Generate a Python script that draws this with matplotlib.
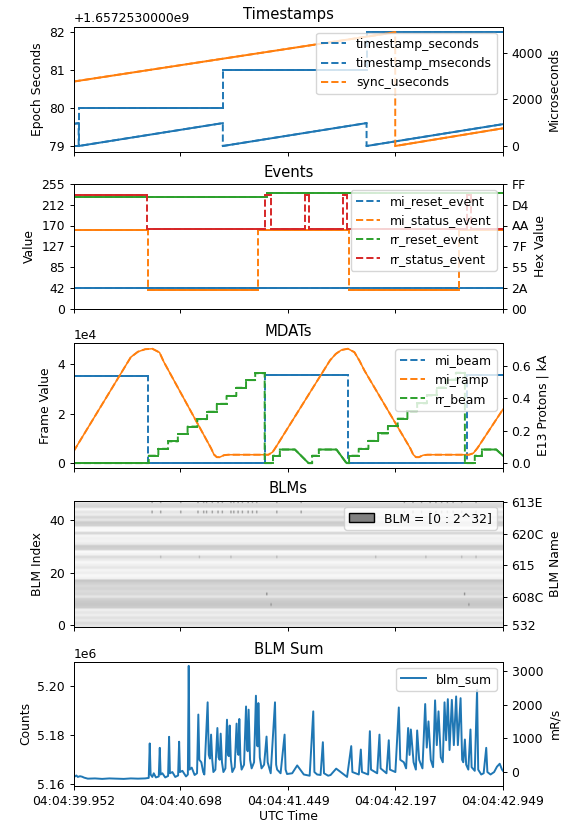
import numpy as np
import matplotlib
matplotlib.use('Agg')
import matplotlib.pyplot as plt
from matplotlib.patches import Patch
from matplotlib.ticker import ScalarFormatter

# ---- shared x axis (seconds since first sample) ----
tick_times = [0.0, 0.746, 1.497, 2.245, 2.997]
tick_labels = ['04:04:39.952', '04:04:40.698', '04:04:41.449', '04:04:42.197', '04:04:42.949']
t_end = 2.997

# ---- Timestamps ----
EPOCH_OFFSET = 1657253000
ts_seconds_t = [0.0, 0.036, 0.036, 1.042, 1.042, 2.045, 2.045, 2.997]
ts_seconds = [1657253079, 1657253079, 1657253080, 1657253080,
              1657253081, 1657253081, 1657253082, 1657253082]
ts_mseconds_t = [0.0, 0.036, 0.036, 1.042, 1.042, 2.045, 2.045, 2.997]
ts_mseconds = [950, 985, 0, 985, 0, 985, 0, 940]
sync_useconds_t = [0.0, 2.245, 2.245, 2.997]
sync_useconds = [2771, 4890, 0, 761]

# ---- Events (change times, then levels between them) ----
mi_reset_times = [0.0, 2.997]
mi_reset_levels = [42]
mi_status_times = [0.0, 0.518, 1.290, 1.923, 2.693, 2.997]
mi_status_levels = [161, 38, 161, 38, 161]
rr_reset_times = [0.0, 1.350, 2.997]
rr_reset_levels = [228, 236]
rr_status_times = [0.0, 0.510, 1.334, 1.380, 1.617, 1.642, 1.884, 1.907, 2.744, 2.774, 2.997]
rr_status_levels = [232, 162, 232, 162, 232, 162, 232, 162, 232, 162]
event_ticks = [0, 42, 85, 127, 170, 212, 255]
event_hex = ['00', '2A', '55', '7F', 'AA', 'D4', 'FF']

# ---- MDATs (frame values) ----
mi_beam_times = [0.0, 0.518, 1.334, 1.915, 2.744, 2.997]
mi_beam_levels = [35400, 0, 35800, 0, 35600]
mi_ramp_t = [0.000, 0.400, 0.450, 0.500, 0.550, 0.600, 0.630, 0.960, 0.980, 1.000,
             1.020, 1.050, 1.080, 1.360, 1.390, 1.420, 1.790, 1.830, 1.870, 1.915, 1.960,
             1.995, 2.030, 2.350, 2.370, 2.390, 2.410, 2.440, 2.470, 2.760, 2.790, 2.820, 2.997]
mi_ramp = [4700, 42900, 45100, 46100, 46300, 44800, 41000, 6000, 3500, 2400,
           2400, 3200, 3400, 3400, 4500, 7200, 41600, 44200, 45800, 46300, 44900,
           41500, 37500, 6000, 3500, 2400, 2400, 3200, 3400, 3400, 4000, 6200, 21800]
rr_beam_t = [0.000, 0.525, 0.525, 0.592, 0.592, 0.660, 0.660, 0.728, 0.728, 0.796, 0.796,
             0.864, 0.864, 0.932, 0.932, 1.000, 1.000, 1.068, 1.068, 1.136, 1.136, 1.204,
             1.204, 1.268, 1.268, 1.334, 1.334, 1.392, 1.392, 1.440, 1.440, 1.545, 1.640,
             1.665, 1.665, 1.712, 1.712, 1.835, 1.905, 1.923, 1.923, 1.990, 1.990, 2.058,
             2.058, 2.126, 2.126, 2.194, 2.194, 2.262, 2.262, 2.330, 2.330, 2.398, 2.398,
             2.466, 2.466, 2.534, 2.534, 2.602, 2.602, 2.668, 2.668, 2.731, 2.731, 2.800,
             2.800, 2.850, 2.850, 2.950, 2.997]
rr_beam = [0, 0, 3000, 3000, 5800, 5800, 8800, 8800, 11800, 11800, 14800,
           14800, 17800, 17800, 20800, 20800, 24000, 24000, 27200, 27200, 30500, 30500,
           33600, 33600, 36400, 36400, 0, 0, 3000, 3000, 5500, 5500, 0,
           0, 3000, 3000, 5500, 5500, 0, 0, 3000, 3000, 5800, 5800,
           9000, 9000, 12000, 12000, 15000, 15000, 18000, 18000, 21000, 21000, 24200,
           24200, 27400, 27400, 30600, 30600, 33800, 33800, 36600, 36600, 0, 0,
           3000, 3000, 5500, 5500, 3000]

# ---- BLMs ----
blm_row_levels = [0.90, 0.86, 0.92, 0.88, 0.93, 0.90, 0.94, 0.80, 0.78, 0.79,
                  0.82, 0.90, 0.84, 0.86, 0.83, 0.85, 0.82, 0.78, 0.95, 0.97,
                  0.93, 0.96, 0.90, 0.94, 0.97, 0.92, 0.86, 0.95, 0.98, 0.82,
                  0.80, 0.92, 0.95, 0.94, 0.96, 0.84, 0.98, 0.97, 0.82, 0.80,
                  0.90, 0.84, 0.93, 0.90, 0.97, 0.84, 0.86, 0.93]
blm_dots_top_t = [0.544, 0.602, 0.741, 0.869, 0.900, 0.927, 0.960, 1.008, 1.030, 1.090,
                  1.115, 1.148, 1.170, 1.218, 1.245, 1.276, 1.410, 1.580, 2.300, 2.360,
                  2.420, 2.480, 2.520, 2.560, 2.600, 2.640, 2.700, 2.800]
blm_dots_mid_t = [0.600, 0.870, 1.090, 1.410, 2.100, 2.450, 2.700, 2.800]
blm_dots_low_t = [1.340, 2.720]
blm_right_ticks = [0, 11, 23, 35, 47]
blm_right_labels = ['532', '608C', '615', '620C', '613E']

# ---- BLM Sum (millions of counts) ----
blm_sum_t = [0.000, 0.010, 0.020, 0.030, 0.045, 0.060, 0.075, 0.100, 0.150, 0.200, 0.250,
             0.300, 0.350, 0.400, 0.450, 0.500, 0.525, 0.532, 0.538, 0.550, 0.560, 0.575,
             0.595, 0.602, 0.608, 0.620, 0.640, 0.660, 0.667, 0.673, 0.690, 0.710, 0.730,
             0.737, 0.743, 0.760, 0.785, 0.798, 0.804, 0.810, 0.825, 0.845, 0.862, 0.871,
             0.878, 0.892, 0.905, 0.913, 0.936, 0.944, 0.952, 0.960, 0.968, 0.976, 0.990,
             1.004, 1.012, 1.020, 1.027, 1.036, 1.046, 1.060, 1.071, 1.078, 1.084, 1.090,
             1.098, 1.108, 1.125, 1.138, 1.146, 1.151, 1.157, 1.165, 1.173, 1.190, 1.204,
             1.212, 1.216, 1.222, 1.232, 1.243, 1.260, 1.273, 1.281, 1.285, 1.290, 1.300,
             1.312, 1.330, 1.347, 1.355, 1.376, 1.406, 1.414, 1.421, 1.445, 1.473, 1.480,
             1.490, 1.526, 1.561, 1.607, 1.648, 1.673, 1.681, 1.700, 1.724, 1.740, 1.748,
             1.777, 1.794, 1.833, 1.886, 1.909, 1.938, 1.946, 1.991, 2.005, 2.013, 2.056,
             2.068, 2.076, 2.119, 2.135, 2.143, 2.184, 2.200, 2.208, 2.246, 2.270, 2.280,
             2.305, 2.321, 2.335, 2.345, 2.354, 2.373, 2.389, 2.398, 2.412, 2.435, 2.454,
             2.465, 2.477, 2.493, 2.509, 2.523, 2.535, 2.547, 2.563, 2.577, 2.589, 2.600,
             2.612, 2.624, 2.640, 2.654, 2.670, 2.682, 2.701, 2.712, 2.720, 2.731, 2.740,
             2.755, 2.770, 2.778, 2.800, 2.816, 2.824, 2.845, 2.862, 2.880, 2.888, 2.910,
             2.935, 2.955, 2.974, 2.990, 2.997]
blm_sum_m = [5.1635, 5.1632, 5.1636, 5.1630, 5.1633, 5.1631, 5.1627, 5.1623, 5.1624, 5.1622, 5.1624,
             5.1623, 5.1622, 5.1624, 5.1623, 5.1624, 5.1626, 5.1767, 5.1640, 5.1630, 5.1645, 5.1628,
             5.1632, 5.1749, 5.1640, 5.1645, 5.1628, 5.1634, 5.1794, 5.1645, 5.1650, 5.1630, 5.1636,
             5.1774, 5.1650, 5.1655, 5.1632, 5.1640, 5.2084, 5.1660, 5.1668, 5.1638, 5.1645, 5.1885,
             5.1700, 5.1690, 5.1650, 5.1640, 5.1935, 5.1720, 5.1705, 5.1803, 5.1700, 5.1650, 5.1660,
             5.1830, 5.1710, 5.1700, 5.1807, 5.1690, 5.1650, 5.1665, 5.1864, 5.1720, 5.1715, 5.1840,
             5.1700, 5.1650, 5.1670, 5.1848, 5.1730, 5.1720, 5.1867, 5.1700, 5.1660, 5.1680, 5.1918,
             5.1740, 5.1735, 5.1905, 5.1700, 5.1665, 5.1690, 5.1962, 5.1760, 5.1755, 5.1932, 5.1710,
             5.1665, 5.1680, 5.1795, 5.1690, 5.1645, 5.1935, 5.1680, 5.1660, 5.1645, 5.1803, 5.1660,
             5.1642, 5.1645, 5.1677, 5.1640, 5.1635, 5.1898, 5.1650, 5.1640, 5.1638, 5.1772, 5.1645,
             5.1635, 5.1638, 5.1664, 5.1640, 5.1630, 5.1756, 5.1650, 5.1640, 5.1742, 5.1650, 5.1640,
             5.1817, 5.1660, 5.1645, 5.1803, 5.1665, 5.1645, 5.1780, 5.1660, 5.1650, 5.1914, 5.1700,
             5.1690, 5.1665, 5.1830, 5.1720, 5.1824, 5.1690, 5.1660, 5.1820, 5.1700, 5.1665, 5.1928,
             5.1750, 5.1857, 5.1700, 5.1670, 5.1943, 5.1760, 5.1898, 5.1710, 5.1690, 5.1935, 5.1780,
             5.1948, 5.1740, 5.1945, 5.1760, 5.1959, 5.1760, 5.1952, 5.1700, 5.1690, 5.1783, 5.1680,
             5.1660, 5.1824, 5.1670, 5.1655, 5.1986, 5.1660, 5.1640, 5.1645, 5.1749, 5.1650, 5.1640,
             5.1650, 5.1672, 5.1684, 5.1660, 5.1655]

plt.rcParams.update({
    'font.size': 8.9, 'axes.titlesize': 10.7, 'legend.fontsize': 8.9,
    'lines.linewidth': 1.4, 'axes.linewidth': 0.7,
    'xtick.major.width': 0.7, 'ytick.major.width': 0.7,
    'xtick.major.size': 3.1, 'ytick.major.size': 3.1,
    'xtick.major.pad': 3.1, 'ytick.major.pad': 3.1,
    'axes.labelpad': 3.5, 'axes.titlepad': 5.3,
})


class OffsetFormatter(ScalarFormatter):
    # old-style long offset string, e.g. +1.6572530000e9
    def get_offset(self):
        if not self.offset:
            return super().get_offset()
        mant, exp = ('%1.10e' % self.offset).split('e')
        return '+%se%d' % (mant, int(exp))


def steps(times, levels):
    t = np.repeat(times, 2)[1:-1]
    v = np.repeat(levels, 2)
    return t, v


def jump_plot(ax, t, v, color, label):
    # dashed line for the legend / jumps, solid over the continuous runs
    t = np.asarray(t, dtype=float)
    v = np.asarray(v, dtype=float)
    ax.plot(t, v, '--', color=color, label=label)
    jumps = np.where(np.diff(t) == 0)[0]
    start = 0
    for j in list(jumps) + [len(t) - 1]:
        if j > start:
            ax.plot(t[start:j + 1], v[start:j + 1], '-', color=color)
        start = j + 1


def make_axes(fig, top, bottom):
    W, H = 572, 824
    return fig.add_axes([73.5 / W, 1 - bottom / H, 429.5 / W, (bottom - top) / H])


def graph():
    fig = plt.figure(figsize=(5.72, 8.24), dpi=100)
    ax1 = make_axes(fig, 26.6, 151.7)
    ax2 = make_axes(fig, 184.0, 308.5)
    ax3 = make_axes(fig, 343.3, 468.3)
    ax4 = make_axes(fig, 500.7, 626.7)
    ax5 = make_axes(fig, 661.7, 786.0)
    axes = [ax1, ax2, ax3, ax4, ax5]

    # Timestamps
    ax1r = ax1.twinx()
    jump_plot(ax1, ts_seconds_t, ts_seconds, 'C0', 'timestamp_seconds')
    jump_plot(ax1r, ts_mseconds_t, ts_mseconds, 'C0', 'timestamp_mseconds')
    jump_plot(ax1r, sync_useconds_t, sync_useconds, 'C1', 'sync_useconds')
    ax1.yaxis.set_major_formatter(OffsetFormatter(useOffset=EPOCH_OFFSET))
    ax1.set_yticks([EPOCH_OFFSET + 79, EPOCH_OFFSET + 80, EPOCH_OFFSET + 81, EPOCH_OFFSET + 82])
    ax1.set_ylim(EPOCH_OFFSET + 78.85, EPOCH_OFFSET + 82.15)
    ax1r.set_ylim(-245, 5135)
    ax1r.set_yticks([0, 2000, 4000])
    ax1.set_ylabel('Epoch Seconds')
    ax1r.set_ylabel('Microseconds')
    ax1.set_title('Timestamps')
    h1 = [l for l in ax1.get_lines() if not l.get_label().startswith('_')]
    h1r = [l for l in ax1r.get_lines() if not l.get_label().startswith('_')]
    ax1r.legend(handles=h1 + h1r, loc='upper right')

    # Events
    ax2r = ax2.twinx()
    for times, levels, color, name in [
            (mi_reset_times, mi_reset_levels, 'C0', 'mi_reset_event'),
            (mi_status_times, mi_status_levels, 'C1', 'mi_status_event'),
            (rr_reset_times, rr_reset_levels, 'C2', 'rr_reset_event'),
            (rr_status_times, rr_status_levels, 'C3', 'rr_status_event')]:
        t, v = steps(times, levels)
        jump_plot(ax2, t, v, color, name)
    ax2.set_ylim(0, 255)
    ax2.set_yticks(event_ticks)
    ax2r.set_ylim(0, 255)
    ax2r.set_yticks(event_ticks)
    ax2r.set_yticklabels(event_hex)
    ax2.set_ylabel('Value')
    ax2r.set_ylabel('Hex Value')
    ax2.set_title('Events')
    ax2r.legend(handles=[l for l in ax2.get_lines() if not l.get_label().startswith('_')],
                loc='upper right')

    # MDATs
    ax3r = ax3.twinx()
    t, v = steps(mi_beam_times, mi_beam_levels)
    jump_plot(ax3, t, v, 'C0', 'mi_beam')
    ax3.plot(mi_ramp_t, mi_ramp, '--', color='C1', label='mi_ramp')
    ax3.plot(mi_ramp_t, mi_ramp, '-', color='C1', lw=1.1)
    jump_plot(ax3, rr_beam_t, rr_beam, 'C2', 'rr_beam')
    ax3.set_ylim(-2100, 48500)
    ax3.set_yticks([0, 20000, 40000])
    ax3.ticklabel_format(axis='y', style='sci', scilimits=(0, 0))
    ax3r.set_ylim(-0.031, 0.740)
    ax3r.set_yticks([0.0, 0.2, 0.4, 0.6])
    ax3.set_ylabel('Frame Value')
    ax3r.set_ylabel('E13 Protons | kA')
    ax3.set_title('MDATs')
    ax3r.legend(handles=[l for l in ax3.get_lines() if not l.get_label().startswith('_')],
                loc='upper right')

    # BLMs
    ncol = 300
    img = np.tile(np.array(blm_row_levels)[:, None], (1, ncol))

    def col(tt):
        return min(int(tt / t_end * ncol), ncol - 1)
    for tt in blm_dots_top_t:
        img[47, col(tt)] = 0.50
        img[43, col(tt)] = 0.60
    for tt in blm_dots_mid_t:
        img[26, col(tt)] = 0.72
    for tt in blm_dots_low_t:
        img[12, col(tt)] = 0.55
        img[8, col(tt + 0.03)] = 0.60
    ax4.imshow(img, cmap='gray', vmin=0, vmax=1, aspect='auto', origin='lower',
               extent=(0, t_end, -0.5, 47.5))
    ax4r = ax4.twinx()
    ax4.set_ylim(-0.5, 47.5)
    ax4.set_yticks([0, 20, 40])
    ax4r.set_ylim(-0.5, 47.5)
    ax4r.set_yticks(blm_right_ticks)
    ax4r.set_yticklabels(blm_right_labels)
    ax4.set_ylabel('BLM Index')
    ax4r.set_ylabel('BLM Name')
    ax4.set_title('BLMs')
    ax4r.legend(handles=[Patch(facecolor='gray', edgecolor='black', label='BLM = [0 : 2^32]')],
                loc='upper right')

    # BLM Sum
    ax5r = ax5.twinx()
    ax5.plot(blm_sum_t, np.array(blm_sum_m) * 1e6, color='C0', label='blm_sum')
    ax5.set_ylim(5.1593e6, 5.2101e6)
    ax5.set_yticks([5.16e6, 5.18e6, 5.20e6])
    ax5r.set_ylim(-426, 3275)
    ax5r.set_yticks([0, 1000, 2000, 3000])
    ax5.set_ylabel('Counts')
    ax5r.set_ylabel('mR/s')
    ax5.set_title('BLM Sum')
    ax5.set_xlabel('UTC Time', labelpad=2.0)
    ax5r.legend(handles=ax5.get_lines()[:1], loc='upper right')

    for ax in axes:
        ax.set_xlim(0, t_end)
        ax.set_xticks(tick_times)
        if ax is ax5:
            ax.set_xticklabels(tick_labels)
        else:
            ax.tick_params(labelbottom=False)

    fig.savefig('out.png', dpi=100)


if __name__ == "__main__":
    graph()
